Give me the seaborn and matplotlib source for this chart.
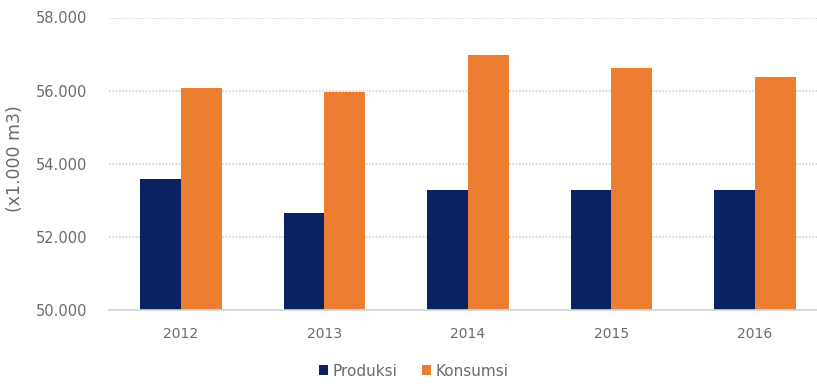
import matplotlib
matplotlib.use("Agg")
import matplotlib.pyplot as plt
import matplotlib.ticker as mticker
from matplotlib.patches import Patch
import pandas as pd
import seaborn as sns

# ---------------------- data ----------------------
tahun = ["2012", "2013", "2014", "2015", "2016"]
produksi = [53600, 52660, 53300, 53300, 53300]
konsumsi = [56080, 55960, 56970, 56610, 56380]
seri = ["Produksi", "Konsumsi"]
warna = ["#0b2161", "#ed7d31"]

df = pd.DataFrame({
    "tahun": tahun * 2,
    "nilai": produksi + konsumsi,
    "seri": [seri[0]] * len(tahun) + [seri[1]] * len(tahun),
})

sns.set_style("white")
plt.rcParams["font.family"] = ["DejaVu Sans"]
abu = "#6b6b6b"

W, H = 817, 384
fig = plt.figure(figsize=(W / 100, H / 100), dpi=100)
# axes: left 109px, plot spans 717px (right edge cropped like the source)
ax = fig.add_axes([109.25 / W, (H - 310.3) / H, 717.5 / W, (310.3 - 17.5) / H])

sns.barplot(data=df, x="tahun", y="nilai", hue="seri", palette=warna,
            width=0.565, saturation=1, ax=ax, legend=False, linewidth=0)

ax.set_ylim(50000, 58000)
ax.set_xlim(-0.5, 4.5)
ax.set_yticks([50000, 52000, 54000, 56000, 58000])
ax.yaxis.set_major_formatter(
    mticker.FuncFormatter(lambda v, p: f"{v:,.0f}".replace(",", ".")))

ax.grid(axis="y", color="#d2d2d2", linestyle=(0, (1, 1)), linewidth=1.2)
ax.set_axisbelow(True)
for s in ["top", "right", "left"]:
    ax.spines[s].set_visible(False)
ax.spines["bottom"].set_color("#d4d4d4")
ax.spines["bottom"].set_linewidth(1.2)

ax.tick_params(axis="x", length=0, pad=12, labelsize=10, labelcolor=abu)
ax.tick_params(axis="y", length=0, pad=16, labelsize=10.5, labelcolor=abu)
ax.set_xlabel("")
ax.set_ylabel("")

fig.text(15 / W, 1 - 159 / H, "(x1.000 m3)", rotation=90, ha="center",
         va="center", fontsize=12.5, color=abu)

handles = [Patch(facecolor=c, edgecolor="none", label=l) for c, l in zip(warna, seri)]
fig.legend(handles=handles, loc="center", bbox_to_anchor=(414 / W, 13 / H),
           ncol=2, frameon=False, fontsize=11, labelcolor=abu,
           handlelength=0.6, handleheight=0.6, handletextpad=0.3,
           columnspacing=1.6)

fig.savefig("out.png", dpi=100)
